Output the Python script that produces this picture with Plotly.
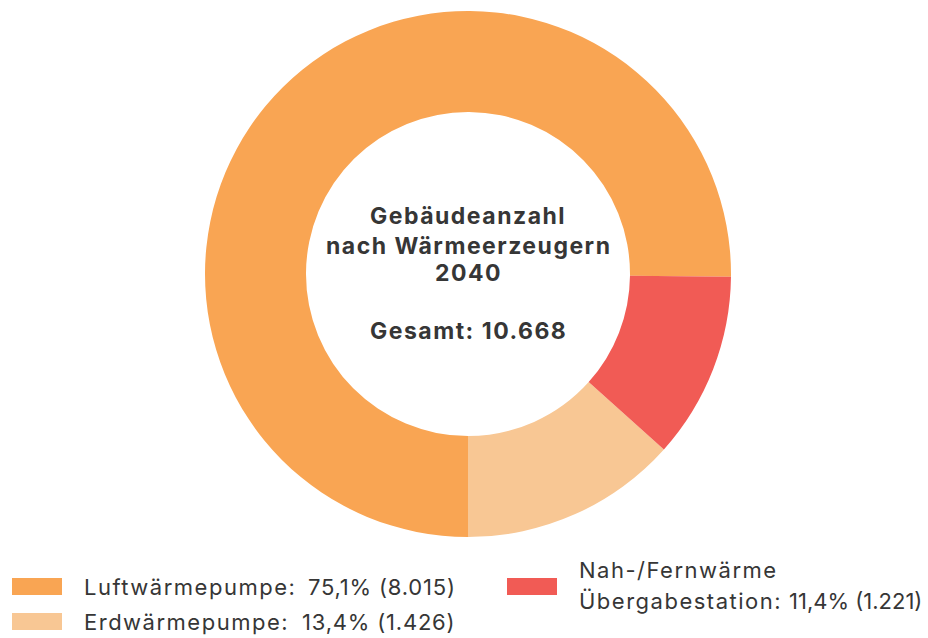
import plotly.graph_objects as go

# Building counts by heat generator, 2040
categories = ["Luftwärmepumpe", "Erdwärmepumpe", "Nah-/Fernwärme Übergabestation"]
counts = [8015, 1426, 1221]
shares = ["75,1%", "13,4%", "11,4%"]
count_labels = ["8.015", "1.426", "1.221"]
colors = ["#F9A553", "#F8C794", "#F15B55"]
title_lines = ["Gebäudeanzahl", "nach Wärmeerzeugern", "2040"]
total_label = "10.668"

W, H = 928, 638
TEXT = "#363636"
FONT = "Inter"


def px(x):
    return x / W


def py(y):
    return 1 - y / H


def spaced(txt, sp):
    return '<span style="letter-spacing:%.1fpx">%s</span>' % (sp, txt)


fig = go.Figure()
fig.add_trace(go.Pie(
    labels=categories,
    values=counts,
    marker=dict(colors=colors, line=dict(width=0)),
    hole=0.616,
    sort=False,
    direction="counterclockwise",
    rotation=180,
    textinfo="none",
    hoverinfo="label+value+percent",
    showlegend=False,
    domain=dict(x=[px(205), px(731)], y=[py(537), py(11)]),
))

# centre caption, one annotation per line
caption = title_lines + ["Gesamt: " + total_label]
caption_y = [216, 246, 273, 331]
for line, yy in zip(caption, caption_y):
    fig.add_annotation(
        x=px(468), y=py(yy), xref="paper", yref="paper",
        text="<b>" + spaced(line, 1.5) + "</b>", showarrow=False,
        xanchor="center", yanchor="middle",
        font=dict(family=FONT, size=23, color=TEXT),
    )

# custom legend: swatch, name, value
LEG = 22
SP = 1.5
legend_items = [
    # swatch x, swatch y, name lines (x, y), value (x, y, anchor)
    (12, 578, [(categories[0] + ":", 82, 587)], (306, 587, "left")),
    (12, 613, [(categories[1] + ":", 82, 622)], (300, 622, "left")),
    (507, 578, [("Nah-/Fernwärme", 577, 570), ("Übergabestation:", 577, 601)], (924, 601, "right")),
]
for (sx, sy, names, (vx, vy, va)), c, s, n in zip(legend_items, colors, shares, count_labels):
    fig.add_shape(type="rect", xref="paper", yref="paper",
                  x0=px(sx), x1=px(sx + 50), y0=py(sy), y1=py(sy + 17),
                  fillcolor=c, line=dict(width=0))
    for txt, tx, ty in names:
        fig.add_annotation(x=px(tx), y=py(ty), xref="paper", yref="paper",
                           text=spaced(txt, SP), showarrow=False,
                           xanchor="left", yanchor="middle",
                           font=dict(family=FONT, size=LEG, color=TEXT))
    fig.add_annotation(x=px(vx), y=py(vy), xref="paper", yref="paper",
                       text=spaced(s + " (" + n + ")", 0.8 if va == "left" else 0.0),
                       showarrow=False,
                       xanchor=va, yanchor="middle",
                       font=dict(family=FONT, size=LEG, color=TEXT))

fig.update_layout(
    width=W, height=H,
    margin=dict(l=0, r=0, t=0, b=0),
    paper_bgcolor="white", plot_bgcolor="white",
)

fig.write_html("out.html")
